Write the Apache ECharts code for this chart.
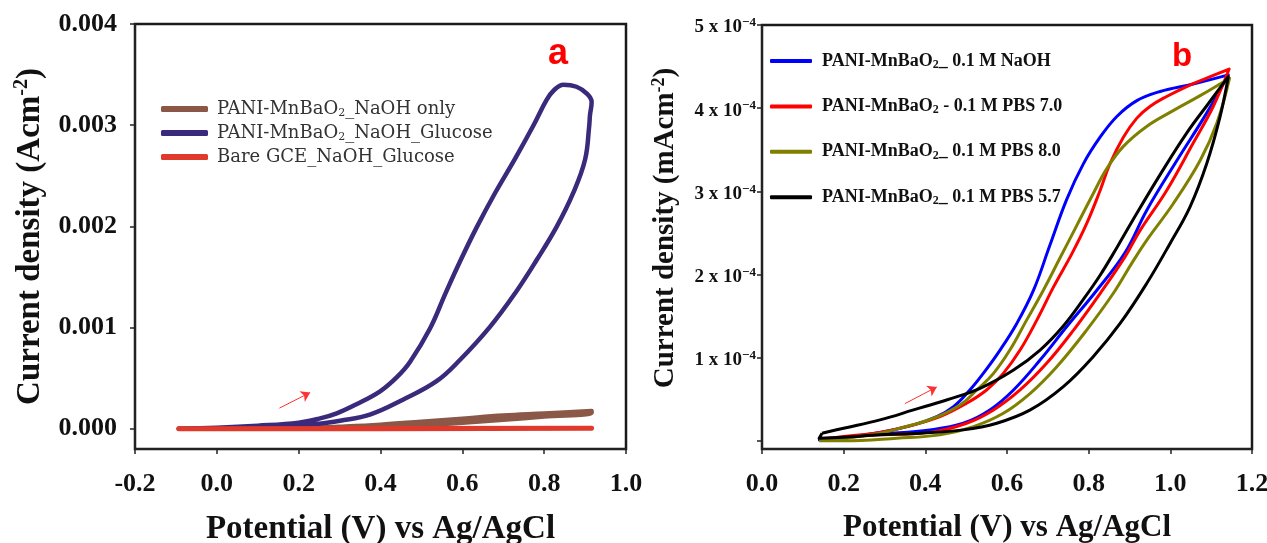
<!DOCTYPE html>
<html><head><meta charset="utf-8">
<script src="https://cdn.jsdelivr.net/npm/echarts@6/dist/echarts.min.js"></script>
<style>html,body{margin:0;padding:0;background:#fff}#c{width:1267px;height:543px}</style>
</head><body><div id="c"></div>
<script>
// ---------- Panel a ----------
const aXTicks = [-0.2, 0.0, 0.2, 0.4, 0.6, 0.8, 1.0];
const aYTicks = [0, 0.001, 0.002, 0.003, 0.004];
const aNames = ['PANI-MnBaO2_NaOH only', 'PANI-MnBaO2_NaOH_Glucose', 'Bare GCE_NaOH_Glucose'];

const aNaohOnlyX = [-0.093, 0.2, 0.3, 0.4, 0.5, 0.6, 0.7, 0.8, 0.916, 0.916, 0.8, 0.7, 0.6, 0.5, 0.4, 0.2, -0.093];
const aNaohOnlyY = [0, 0.000005, 0.00002, 0.00004, 0.00007, 0.0001, 0.00013, 0.00015, 0.000175, 0.000155, 0.00012, 0.00009, 0.00006, 0.00003, 0.00001, 0, 0];

const aGlucoseX = [-0.093, 0.0, 0.1, 0.2, 0.25, 0.293, 0.34, 0.399, 0.44, 0.472, 0.521, 0.558, 0.594, 0.635, 0.680, 0.729, 0.774, 0.806, 0.825, 0.847, 0.879, 0.905, 0.916,
  0.912, 0.910, 0.900, 0.871, 0.831, 0.782, 0.729, 0.668, 0.594, 0.537, 0.456, 0.374, 0.301, 0.25, 0.15, 0.0, -0.093];
const aGlucoseY = [0, 0.00001, 0.00003, 0.00006, 0.0001, 0.000153, 0.00024, 0.00037, 0.00051, 0.00066, 0.00099, 0.00133, 0.00165, 0.00199, 0.00233, 0.00267, 0.003, 0.00325, 0.00335, 0.0034, 0.00338, 0.00331, 0.00323,
  0.0031, 0.00299, 0.00266, 0.00233, 0.002, 0.00167, 0.00134, 0.00101, 0.00068, 0.00047, 0.00029, 0.00014, 0.00008, 0.00005, 0.00002, 0.000005, 0];

const aBareX = [-0.093, 0.4, 0.916, 0.4, -0.093];
const aBareY = [0, 0.000002, 0.000004, 0, 0];

const aArrowX = [0.153, 0.228];
const aArrowY = [0.000204, 0.000358];

// ---------- Panel b ----------
const bXTicks = [0.0, 0.2, 0.4, 0.6, 0.8, 1.0, 1.2];
const bYTicks = [0, 1e-4, 2e-4, 3e-4, 4e-4, 5e-4];
const bNames = ['PANI-MnBaO2_ 0.1 M NaOH', 'PANI-MnBaO2 - 0.1 M PBS 7.0', 'PANI-MnBaO2_ 0.1 M PBS 8.0', 'PANI-MnBaO2_ 0.1 M PBS 5.7'];

// values in units of 1e-4
const bNaohX = [0.137, 0.2, 0.289, 0.371, 0.428, 0.469, 0.509, 0.542, 0.583, 0.624, 0.665, 0.705, 0.746, 0.787, 0.828, 0.869, 0.918, 0.975, 1.056, 1.142,
  1.089, 1.016, 0.942, 0.89, 0.820, 0.746, 0.681, 0.616, 0.558, 0.493, 0.411, 0.289, 0.2, 0.137];
const bNaohY = [0.01, 0.04, 0.10, 0.19, 0.29, 0.41, 0.61, 0.81, 1.09, 1.41, 1.81, 2.35, 2.90, 3.33, 3.65, 3.90, 4.09, 4.20, 4.29, 4.40,
  3.94, 3.37, 2.77, 2.27, 1.81, 1.37, 0.97, 0.61, 0.37, 0.21, 0.13, 0.08, 0.04, 0.01];

const bPbs70X = [0.14, 0.2, 0.289, 0.355, 0.436, 0.501, 0.550, 0.591, 0.632, 0.673, 0.714, 0.759, 0.795, 0.828, 0.852, 0.885, 0.918, 0.950, 0.991, 1.040, 1.089, 1.144,
  1.105, 1.056, 0.991, 0.926, 0.89, 0.828, 0.763, 0.697, 0.632, 0.567, 0.501, 0.411, 0.289, 0.2, 0.14];
const bPbs70Y = [0.02, 0.05, 0.10, 0.17, 0.29, 0.45, 0.61, 0.81, 1.09, 1.45, 1.85, 2.25, 2.61, 3.01, 3.33, 3.65, 3.88, 4.02, 4.14, 4.26, 4.36, 4.47,
  4.02, 3.58, 3.01, 2.53, 2.22, 1.77, 1.33, 0.93, 0.61, 0.37, 0.21, 0.10, 0.07, 0.04, 0.02];

const bPbs80X = [0.14, 0.2, 0.289, 0.338, 0.420, 0.485, 0.526, 0.567, 0.607, 0.648, 0.689, 0.730, 0.771, 0.811, 0.844, 0.885, 0.942, 1.007, 1.073, 1.145,
  1.114, 1.073, 1.007, 0.942, 0.905, 0.860, 0.795, 0.722, 0.657, 0.591, 0.518, 0.436, 0.330, 0.2, 0.14];
const bPbs80Y = [0.0, 0.03, 0.09, 0.15, 0.27, 0.43, 0.61, 0.81, 1.09, 1.45, 1.81, 2.2, 2.59, 2.97, 3.27, 3.54, 3.78, 3.97, 4.15, 4.36,
  3.82, 3.37, 2.85, 2.41, 2.13, 1.77, 1.33, 0.89, 0.57, 0.33, 0.17, 0.07, 0.03, 0.0, 0.0];

const bPbs57X = [0.147, 0.2, 0.289, 0.371, 0.452, 0.534, 0.616, 0.681, 0.738, 0.787, 0.828, 0.87, 0.909, 0.975, 1.040, 1.097, 1.142,
  1.122, 1.089, 1.048, 0.999, 0.942, 0.877, 0.811, 0.738, 0.657, 0.575, 0.493, 0.387, 0.289, 0.2, 0.14, 0.147];
const bPbs57Y = [0.09, 0.15, 0.25, 0.37, 0.49, 0.63, 0.85, 1.09, 1.38, 1.70, 1.99, 2.33, 2.66, 3.20, 3.70, 4.08, 4.38,
  3.90, 3.33, 2.81, 2.37, 1.89, 1.41, 1.01, 0.65, 0.37, 0.21, 0.13, 0.09, 0.07, 0.04, 0.03, 0.09];

const bArrowX = [0.350, 0.428];
const bArrowY = [0.446, 0.646];

const bScale = 1e-4;

function zip(xs, ys, k) { return xs.map((x, i) => [x, ys[i] * (k || 1)]); }

const SERIF = 'Liberation Serif';
function titleRich(size, supSize) {
  return {
    t: { fontFamily: SERIF, fontWeight: 'bold', fontSize: size, color: '#111', lineHeight: size + 3 },
    s: { fontFamily: SERIF, fontWeight: 'bold', fontSize: supSize, color: '#111', lineHeight: supSize + 1, verticalAlign: 'top' }
  };
}
const tickLabel = { fontFamily: SERIF, fontWeight: 'bold', fontSize: 26, color: '#111' };

function subFmt(name) {
  const i = name.indexOf('O2');
  if (i < 0) return '{a|' + name + '}';
  return '{a|' + name.slice(0, i + 1) + '}{s|2}{a|' + name.slice(i + 2) + '}';
}

function xAxisCfg(grid, min, max, gap, size) {
  return {
    type: 'value', gridIndex: grid, min: min, max: max, interval: 0.2,
    axisLine: { show: true, onZero: false, lineStyle: { color: '#222', width: 2 } },
    axisTick: { show: true, inside: false, length: 5, lineStyle: { color: '#222', width: 1.5 } },
    axisLabel: Object.assign({ margin: 22, formatter: v => v.toFixed(1) }, tickLabel),
    splitLine: { show: false },
    name: '{t|Potential (V) vs Ag/AgCl}', nameLocation: 'middle', nameGap: gap,
    nameTextStyle: { rich: titleRich(size, 20) }
  };
}

const SM = 0.4;

const option = {
  animation: false,
  backgroundColor: '#ffffff',
  grid: [
    { left: 135, top: 24, width: 491, height: 425, show: true, borderColor: '#1a1a1a', borderWidth: 2.5, backgroundColor: '#fff', containLabel: false, outerBoundsMode: 'none' },
    { left: 762, top: 25, width: 490, height: 424, show: true, borderColor: '#1a1a1a', borderWidth: 2.5, backgroundColor: '#fff', containLabel: false, outerBoundsMode: 'none' }
  ],
  xAxis: [xAxisCfg(0, -0.2, 1.0, 62, 33), xAxisCfg(1, 0, 1.2, 62, 31)],
  yAxis: [
    {
      type: 'value', gridIndex: 0, min: -0.0002, max: 0.004,
      axisLine: { show: true, onZero: false, lineStyle: { color: '#222', width: 2 } },
      axisTick: { show: true, inside: false, length: 5, customValues: aYTicks, lineStyle: { color: '#222', width: 1.5 } },
      axisLabel: Object.assign({ margin: 18, customValues: aYTicks, formatter: v => v.toFixed(3) }, tickLabel),
      splitLine: { show: false },
      name: '{t|Current density (Acm}{s|-2}{t|)}', nameLocation: 'middle', nameGap: 87,
      nameTextStyle: { rich: titleRich(33, 20) }
    },
    {
      type: 'value', gridIndex: 1, min: -0.00001, max: 0.0005,
      axisLine: { show: true, onZero: false, lineStyle: { color: '#222', width: 2 } },
      axisTick: { show: true, inside: false, length: 5, customValues: bYTicks, lineStyle: { color: '#222', width: 1.5 } },
      axisLabel: {
        margin: 6, customValues: bYTicks, padding: [5, 0, 0, 0],
        formatter: v => v < 1e-6 ? '' : '{a|' + Math.round(v / bScale) + ' x 10}{s|\u22124}',
        rich: {
          a: { fontFamily: SERIF, fontWeight: 'bold', fontSize: 19, color: '#111', lineHeight: 22 },
          s: { fontFamily: SERIF, fontWeight: 'bold', fontSize: 13, color: '#111', lineHeight: 13, verticalAlign: 'top' }
        }
      },
      splitLine: { show: false },
      name: '{t|Current density (mAcm}{s|-2}{t|)}', nameLocation: 'middle', nameGap: 80,
      nameTextStyle: { padding: [0, 0, 0, 18], rich: titleRich(29, 18) }
    }
  ],
  legend: [
    {
      data: aNames, left: 161, top: 100, padding: 0, orient: 'vertical', itemWidth: 47, itemHeight: 6, itemGap: 5,
      icon: 'roundRect', formatter: subFmt,
      textStyle: {
        padding: [0, 0, 0, 4],
        rich: {
          a: { fontFamily: 'DejaVu Serif', fontSize: 18, color: '#333', lineHeight: 20 },
          s: { fontFamily: 'DejaVu Serif', fontSize: 11, color: '#333', lineHeight: 11, verticalAlign: 'bottom' }
        }
      }
    },
    {
      data: bNames, left: 770, top: 52, padding: 0, orient: 'vertical', itemWidth: 42, itemHeight: 4, itemGap: 26.4,
      icon: 'roundRect', formatter: subFmt,
      textStyle: {
        padding: [0, 0, 0, 5],
        rich: {
          a: { fontFamily: SERIF, fontWeight: 'bold', fontSize: 18, color: '#111', lineHeight: 20 },
          s: { fontFamily: SERIF, fontWeight: 'bold', fontSize: 12, color: '#111', lineHeight: 12, verticalAlign: 'bottom' }
        }
      }
    }
  ],
  graphic: [
    { type: 'text', left: 548, top: 36, style: { text: 'a', fill: '#ff0000', font: 'bold 36px "Liberation Sans"' } },
    { type: 'text', left: 1172, top: 40, style: { text: 'b', fill: '#ff0000', font: 'bold 33px "Liberation Sans"' } }
  ],
  series: [
    { name: aNames[0], type: 'line', xAxisIndex: 0, yAxisIndex: 0, data: zip(aNaohOnlyX, aNaohOnlyY), smooth: SM, showSymbol: false, symbol: 'none',
      itemStyle: { color: '#8b5848' }, lineStyle: { color: '#8b5848', width: 4.5, cap: 'round', join: 'round' }, emphasis: { disabled: true } },
    { name: aNames[1], type: 'line', xAxisIndex: 0, yAxisIndex: 0, data: zip(aGlucoseX, aGlucoseY), smooth: SM, showSymbol: false, symbol: 'none',
      itemStyle: { color: '#3b2a7c' }, lineStyle: { color: '#3b2a7c', width: 4.5, cap: 'round', join: 'round' }, emphasis: { disabled: true } },
    { name: aNames[2], type: 'line', xAxisIndex: 0, yAxisIndex: 0, data: zip(aBareX, aBareY), showSymbol: false, symbol: 'none',
      itemStyle: { color: '#e03a2c' }, lineStyle: { color: '#e03a2c', width: 5, cap: 'round', join: 'round' }, emphasis: { disabled: true },
      markLine: { silent: true, symbol: ['none', 'arrow'], symbolSize: 9, label: { show: false },
        lineStyle: { color: '#ff3030', width: 1, type: 'solid' }, emphasis: { disabled: true },
        data: [[{ coord: [aArrowX[0], aArrowY[0]] }, { coord: [aArrowX[1], aArrowY[1]] }]] } },

    { name: bNames[0], type: 'line', xAxisIndex: 1, yAxisIndex: 1, data: zip(bNaohX, bNaohY, bScale), smooth: SM, showSymbol: false, symbol: 'none',
      itemStyle: { color: '#0000ff' }, lineStyle: { color: '#0000ff', width: 3, join: 'round' }, emphasis: { disabled: true } },
    { name: bNames[1], type: 'line', xAxisIndex: 1, yAxisIndex: 1, data: zip(bPbs70X, bPbs70Y, bScale), smooth: SM, showSymbol: false, symbol: 'none',
      itemStyle: { color: '#ff0000' }, lineStyle: { color: '#ff0000', width: 3, join: 'round' }, emphasis: { disabled: true } },
    { name: bNames[2], type: 'line', xAxisIndex: 1, yAxisIndex: 1, data: zip(bPbs80X, bPbs80Y, bScale), smooth: SM, showSymbol: false, symbol: 'none',
      itemStyle: { color: '#808000' }, lineStyle: { color: '#808000', width: 3, join: 'round' }, emphasis: { disabled: true } },
    { name: bNames[3], type: 'line', xAxisIndex: 1, yAxisIndex: 1, data: zip(bPbs57X, bPbs57Y, bScale), smooth: SM, showSymbol: false, symbol: 'none',
      itemStyle: { color: '#000000' }, lineStyle: { color: '#000000', width: 3, join: 'round' }, emphasis: { disabled: true },
      markLine: { silent: true, symbol: ['none', 'arrow'], symbolSize: 9, label: { show: false },
        lineStyle: { color: '#ff3030', width: 1, type: 'solid' }, emphasis: { disabled: true },
        data: [[{ coord: [bArrowX[0], bArrowY[0] * bScale] }, { coord: [bArrowX[1], bArrowY[1] * bScale] }]] } }
  ]
};

const chart = echarts.init(document.getElementById('c'), null, { renderer: 'canvas' });
chart.setOption(option);
</script>
</body></html>
